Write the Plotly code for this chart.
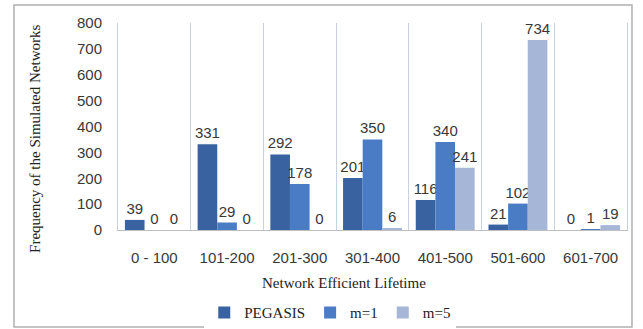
import plotly.graph_objects as go

categories = ["0 - 100", "101-200", "201-300", "301-400", "401-500", "501-600", "601-700"]
pegasis = [39, 331, 292, 201, 116, 21, 0]
m1 = [0, 29, 178, 350, 340, 102, 1]
m5 = [0, 0, 0, 6, 241, 734, 19]
series_names = ["PEGASIS", "m=1", "m=5"]
colors = ["#3863A0", "#4A7CC5", "#A6B6D6"]

fig = go.Figure()
for name, vals, col in zip(series_names, [pegasis, m1, m5], colors):
    fig.add_trace(go.Bar(
        x=categories, y=vals, name=name, marker=dict(color=col, line=dict(width=0)),
        text=[str(v) for v in vals], textposition="outside", cliponaxis=False,
        constraintext="none",
        textfont=dict(family="Liberation Sans, Arial", size=15, color="#383838"),
    ))

fig.update_layout(
    width=643, height=329,
    margin=dict(l=118, r=16, t=23, b=99, autoexpand=False),
    paper_bgcolor="white", plot_bgcolor="white",
    barmode="group", bargap=0.19, bargroupgap=0,
    showlegend=True,
    legend=dict(orientation="h", x=0.417, xanchor="center", y=-0.40, yanchor="middle",
                font=dict(family="Liberation Serif, Times New Roman", size=15, color="#222"),
                itemwidth=30, traceorder="normal"),
    xaxis=dict(type="category", tickson="boundaries", showgrid=True, gridcolor="#C8D1DE",
               gridwidth=1, showline=True, linecolor="#BFBFBF", linewidth=1, ticks="",
               tickfont=dict(family="Liberation Sans, Arial", size=15, color="#383838"),
               ticklabelstandoff=14, automargin=False),
    yaxis=dict(range=[0, 800], dtick=100, showgrid=False, zeroline=False,
               showline=True, linecolor="#C8D1DE", mirror=True, ticks="",
               tickfont=dict(family="Liberation Sans, Arial", size=15, color="#383838"),
               ticklabelstandoff=12, automargin=False),
    annotations=[
        dict(text="Frequency of the Simulated Networks", xref="paper", yref="paper",
             x=-0.163, y=0.44, xanchor="center", yanchor="middle", textangle=-90,
             showarrow=False,
             font=dict(family="Liberation Serif, Times New Roman", size=15, color="#222")),
        dict(text="Network Efficient Lifetime", xref="paper", yref="paper",
             x=0.444, y=-0.256, xanchor="center", yanchor="middle", showarrow=False,
             font=dict(family="Liberation Serif, Times New Roman", size=15, color="#222")),
    ],
    shapes=[dict(type="rect", xref="paper", yref="paper", x0=-0.2043, x1=1.0098,
                 y0=-0.4686, y1=1.087, line=dict(color="#B0B0B0", width=1.5),
                 fillcolor="rgba(0,0,0,0)", layer="below")],
)

fig.write_html("out.html")
